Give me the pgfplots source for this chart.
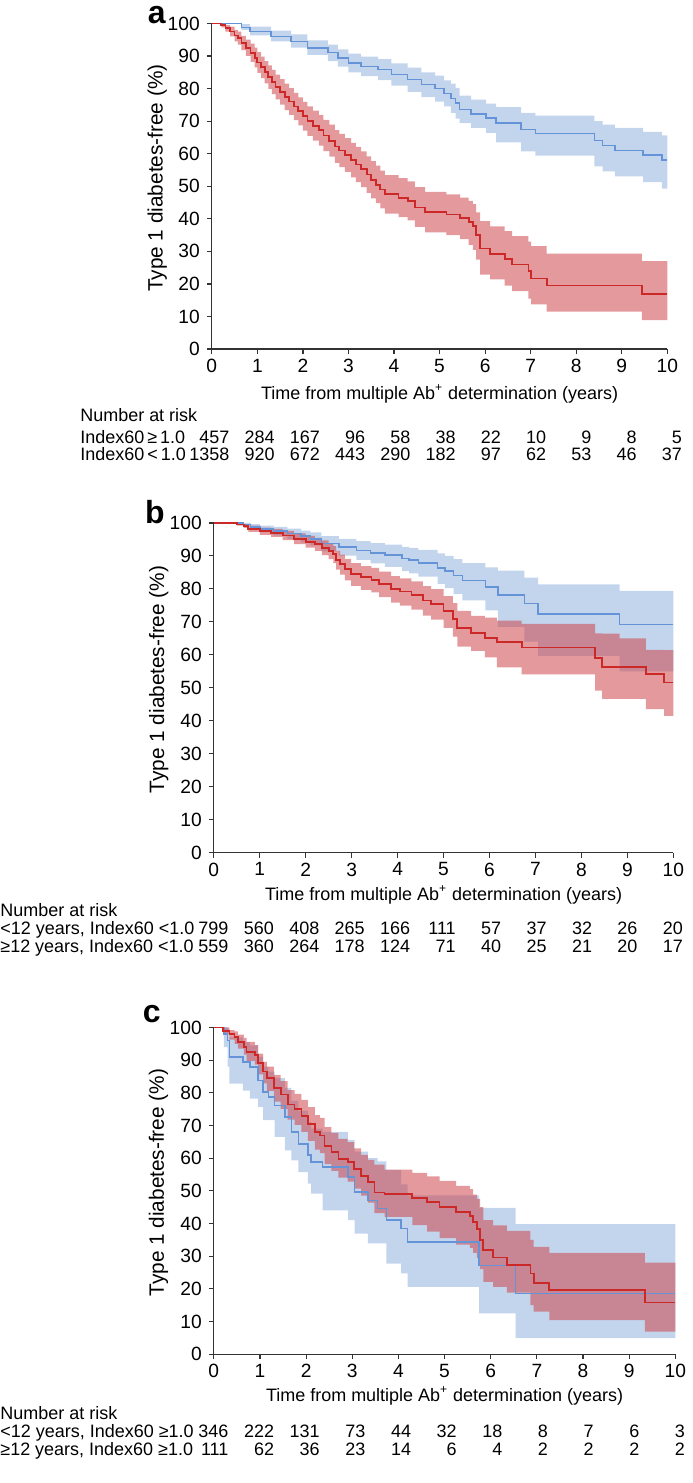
\documentclass[border=0pt]{standalone}
\usepackage{fontspec}
\setmainfont{Liberation Sans}
\usepackage{pgfplots}
\usepackage{pgfplotstable}
\pgfplotsset{compat=1.18}
\usepgfplotslibrary{fillbetween}

\definecolor{kmblue}{RGB}{100,148,215}
\definecolor{kmbluefill}{RGB}{155,185,225}
\definecolor{kmred}{RGB}{205,40,40}
\definecolor{kmredfill}{RGB}{205,70,75}

\newcommand{\lab}{\fontsize{9}{10.5}\selectfont}
\newcommand{\ticks}{\fontsize{9.6}{11}\selectfont}
\newcommand{\ylab}{\fontsize{10.4}{12}\selectfont}
\newcommand{\panel}{\fontsize{16}{16}\selectfont\bfseries}

% t = time (years), s = survival (%), lo/hi = 95% CI
\pgfplotstableread{
t s lo hi
0.00 100.0 100.0 100.0
0.65 98.8 98.0 99.8
0.84 97.5 96.3 99.0
1.30 96.0 94.5 97.8
1.74 94.5 92.6 96.6
2.10 92.4 90.3 94.8
2.55 91.0 88.4 93.5
2.77 89.4 86.7 92.0
3.00 87.8 85.0 90.7
3.28 86.8 83.8 89.8
3.65 85.8 82.6 89.0
3.94 84.3 80.9 87.7
4.30 82.7 79.0 86.4
4.60 81.2 77.4 85.0
4.90 80.0 76.0 84.0
5.10 78.5 74.5 82.5
5.25 77.0 72.5 81.5
5.35 75.5 70.8 80.2
5.44 73.6 69.4 77.8
5.69 72.2 67.9 76.6
6.02 71.0 66.4 75.4
6.24 69.4 63.5 74.3
6.79 67.4 60.7 72.5
7.10 66.2 59.4 71.7
8.40 64.0 56.1 70.0
8.58 62.5 54.6 68.9
8.85 61.0 53.0 67.9
9.47 59.6 51.3 66.7
9.88 58.0 49.3 65.6
10.00 58.0 49.3 65.6
}\aBlue

\pgfplotstableread{
t s lo hi
0.00 100.0 100.0 100.0
0.21 99.5 98.8 100.0
0.30 98.5 97.5 99.5
0.40 97.5 96.0 99.0
0.50 96.3 94.5 98.0
0.57 95.5 93.5 97.5
0.65 94.0 91.8 96.2
0.75 92.5 90.0 95.0
0.85 91.0 88.2 93.8
0.94 89.5 86.5 92.6
1.00 88.0 84.8 91.2
1.08 86.5 83.2 89.8
1.16 85.0 81.6 88.4
1.24 83.5 79.9 87.1
1.32 82.0 78.3 85.7
1.40 80.5 76.7 84.3
1.50 79.0 75.1 82.9
1.60 77.5 73.4 81.5
1.70 76.0 71.9 80.1
1.80 74.5 70.3 78.7
1.90 73.0 68.7 77.3
2.00 71.5 67.1 75.9
2.10 70.0 65.5 74.5
2.22 68.6 64.0 73.2
2.35 67.2 62.5 71.9
2.45 65.6 60.8 70.4
2.58 64.0 59.1 68.9
2.70 62.2 57.2 67.2
2.80 61.0 55.9 66.1
2.92 59.6 54.4 64.8
3.06 58.0 52.7 63.3
3.16 56.7 51.3 62.1
3.28 55.2 49.7 60.7
3.40 53.6 48.0 59.2
3.50 52.0 46.3 57.7
3.60 50.5 44.8 56.3
3.70 49.0 43.2 54.8
3.80 47.5 41.6 53.4
4.10 46.5 40.5 52.5
4.30 45.5 39.5 51.5
4.46 43.5 37.5 49.7
4.68 42.0 35.8 48.3
5.15 41.3 35.0 47.5
5.45 40.3 33.8 46.5
5.64 39.0 32.0 45.5
5.73 37.8 30.5 44.5
5.80 35.0 27.5 42.0
5.89 30.9 22.9 39.3
6.11 29.3 21.4 37.7
6.43 27.7 19.5 36.2
6.59 26.0 17.8 34.7
6.95 23.9 15.5 33.0
7.01 21.7 13.7 31.6
7.35 19.5 11.5 29.3
9.44 16.8 8.9 27.0
10.00 16.8 8.9 27.0
}\aRed

\pgfplotstableread{
t s lo hi
0.00 100.0 100.0 100.0
0.65 99.5 99.0 100.0
0.80 98.8 98.0 99.6
1.00 98.2 97.2 99.2
1.30 97.5 96.2 98.8
1.60 96.8 95.2 98.3
1.90 96.0 94.2 97.7
2.10 95.2 93.2 97.1
2.34 93.7 91.4 96.0
2.72 92.7 90.1 95.2
3.10 91.7 88.8 94.5
3.41 90.9 87.7 93.9
3.72 90.2 86.7 93.4
4.10 89.2 85.4 92.7
4.25 88.7 84.7 92.4
4.45 87.9 83.7 91.8
4.87 86.4 81.5 90.8
5.03 85.4 80.2 90.0
5.22 84.1 78.5 89.0
5.41 82.6 76.5 87.8
5.91 80.5 73.5 86.5
6.18 78.2 68.5 85.5
6.76 75.5 64.0 83.4
7.06 72.4 59.7 81.4
8.83 69.2 55.0 79.4
10.00 69.2 55.0 79.4
}\bBlue

\pgfplotstableread{
t s lo hi
0.00 100.0 100.0 100.0
0.50 99.5 99.2 100.0
0.65 99.0 98.5 99.6
0.75 98.2 97.3 99.2
1.00 97.5 96.4 98.6
1.25 97.0 95.8 98.2
1.50 96.2 94.8 97.6
1.75 95.2 93.6 96.8
2.00 94.3 92.5 96.1
2.20 93.5 91.5 95.5
2.35 92.5 90.2 94.7
2.50 91.5 89.0 93.8
2.60 90.5 87.8 93.0
2.66 88.8 85.8 91.5
2.75 87.5 84.3 90.4
2.85 86.0 82.6 89.1
2.99 84.5 80.9 87.8
3.20 83.5 79.7 86.9
3.43 82.8 78.9 86.4
3.60 81.5 77.5 85.2
3.86 80.0 75.8 83.9
4.05 79.2 74.9 83.2
4.30 78.2 73.7 82.3
4.55 76.5 71.9 80.8
4.73 75.5 70.7 79.9
5.00 73.2 68.2 77.8
5.20 70.8 65.5 75.7
5.30 68.1 62.5 73.3
5.60 66.6 61.2 71.8
5.90 65.2 59.2 71.3
6.16 63.9 56.2 70.4
6.70 62.2 54.1 69.4
8.30 59.0 49.1 66.5
8.45 56.2 46.6 66.4
8.83 56.2 46.6 65.0
9.40 54.1 43.5 61.5
9.80 51.6 41.5 61.4
10.00 51.6 41.5 61.4
}\bRed

\pgfplotstableread{
t s lo hi
0.00 100.0 100.0 100.0
0.22 98.0 94.0 100.0
0.30 96.0 88.0 99.5
0.34 90.9 82.8 97.0
0.63 89.4 80.7 95.5
0.78 87.9 78.2 94.5
0.96 83.8 75.6 91.0
1.07 80.2 71.6 88.0
1.18 78.7 71.6 86.5
1.32 76.1 66.5 84.5
1.54 72.6 62.4 81.5
1.68 68.0 59.3 77.5
1.83 64.4 55.7 74.5
2.04 60.9 52.2 71.0
2.11 58.8 49.1 69.0
2.36 57.3 44.0 68.0
2.91 54.2 41.0 65.5
3.05 49.6 36.9 62.0
3.34 47.1 33.9 60.0
3.55 44.6 33.9 59.0
3.74 41.0 27.7 56.4
4.06 38.4 24.7 52.0
4.20 34.3 20.6 48.6
5.75 27.2 12.5 44.8
6.54 18.5 4.9 39.8
10.00 18.5 4.9 39.8
}\cBlue

\pgfplotstableread{
t s lo hi
0.00 100.0 100.0 100.0
0.20 99.0 98.0 100.0
0.34 98.0 96.3 99.2
0.45 97.1 95.0 98.8
0.52 95.6 93.5 97.8
0.65 94.0 91.7 96.8
0.71 92.5 89.8 95.6
0.89 91.5 88.6 94.6
0.96 89.0 85.6 92.0
1.07 86.5 82.9 89.5
1.15 84.5 80.6 88.0
1.30 81.5 77.3 85.5
1.45 79.5 75.1 83.6
1.60 76.4 71.8 80.8
1.75 75.0 70.2 79.7
1.90 72.9 68.0 77.8
2.04 70.4 65.3 75.6
2.19 67.9 62.6 73.2
2.30 66.9 61.5 72.3
2.40 63.8 58.2 69.5
2.55 61.8 56.1 67.7
2.70 59.8 54.0 65.9
2.90 58.7 52.8 64.9
3.04 56.7 50.7 63.0
3.19 54.6 48.5 61.0
3.34 52.6 46.4 59.5
3.48 49.5 43.2 58.0
3.70 49.0 42.0 56.5
4.30 47.8 39.5 55.5
4.62 46.6 37.5 54.4
4.89 45.0 35.5 53.0
5.25 43.5 33.5 51.5
5.55 42.3 32.5 50.5
5.62 40.5 31.0 48.8
5.70 38.4 29.5 47.5
5.77 35.0 26.0 45.0
5.84 31.8 22.1 41.0
6.05 29.6 20.6 39.4
6.35 27.4 18.8 37.7
6.86 24.7 15.0 35.0
6.93 21.8 13.0 32.8
7.27 19.6 10.4 31.0
9.34 15.8 6.9 28.0
10.00 15.8 6.9 28.0
}\cRed

\pgfplotsset{
  km/.style={
    scale only axis,
    xmin=0, xmax=10, ymin=0, ymax=100,
    axis lines=left,
    axis line style={-, black!80, line width=0.6pt},
    xtick={0,1,...,10},
    ytick={0,10,...,100},
    tick align=outside,
    major tick length=2.5pt,
    tick style={black!80, line width=0.6pt},
    tick label style={font=\ticks},
    xticklabel style={yshift=1pt},
    /pgf/number format/assume math mode=true,
    xlabel={Time from multiple Ab\textsuperscript{+} determination (years)},
    ylabel={Type 1 diabetes-free (\%)},
    xlabel style={font=\lab, anchor=center},
    ylabel style={font=\ylab, at={(axis description cs:-0.12,0.525)}, anchor=center},
    clip=false,
  },
}

% row of numbers at risk, right aligned a little right of the ticks
% #1 x of tick 0 (px), #2 baseline (px), #3 px per year, #4 offset, #5 drift, #6 values
\newcommand{\riskrow}[6]{%
  \foreach \n [count=\k from 0] in {#6} {
    \node[anchor=base east, inner sep=0pt, font=\lab]
      at ({(#1+#3*\k+#4-#5*\k)*0.5pt}, {-#2*0.5pt}) {\n};
  }}

\begin{document}
\begin{tikzpicture}

% ---------------- a ----------------
\begin{axis}[km, at={(106pt,-174pt)}, anchor=south west,
  width=228pt, height=163pt,
  xlabel style={at={(axis description cs:0.5,-0.138)}}]
\addplot[name path=aBu, draw=none, const plot, forget plot] table[x=t,y=hi] {\aBlue};
\addplot[name path=aBl, draw=none, const plot, forget plot] table[x=t,y=lo] {\aBlue};
\addplot[kmbluefill, fill opacity=0.6, draw=none] fill between[of=aBu and aBl];
\addplot[kmblue, line width=0.75pt, const plot] table[x=t,y=s] {\aBlue};
\addplot[name path=aRu, draw=none, const plot, forget plot] table[x=t,y=hi] {\aRed};
\addplot[name path=aRl, draw=none, const plot, forget plot] table[x=t,y=lo] {\aRed};
\addplot[kmredfill, fill opacity=0.55, draw=none] fill between[of=aRu and aRl];
\addplot[kmred, line width=0.9pt, const plot] table[x=t,y=s] {\aRed};
\end{axis}
\node[font=\panel] at (78.5pt,-7pt) {a};
\node[anchor=base west, inner sep=0pt, font=\lab] at (40pt,-210pt) {Number at risk};
\node[anchor=base west, inner sep=0pt, font=\lab] at (40pt,-221pt) {Index60\,≥\,1.0};
\node[anchor=base west, inner sep=0pt, font=\lab] at (40pt,-230pt) {Index60\,<\,1.0};
\riskrow{212}{442}{45.6}{18}{0.3}{457,284,167,96,58,38,22,10,9,8,5}
\riskrow{212}{460}{45.6}{18}{0.3}{1358,920,672,443,290,182,97,62,53,46,37}

% ---------------- b ----------------
\begin{axis}[km, at={(107pt,-426pt)}, anchor=south west,
  width=230pt, height=165pt,
  xlabel style={at={(axis description cs:0.5,-0.128)}}]
\addplot[name path=bBu, draw=none, const plot, forget plot] table[x=t,y=hi] {\bBlue};
\addplot[name path=bBl, draw=none, const plot, forget plot] table[x=t,y=lo] {\bBlue};
\addplot[kmbluefill, fill opacity=0.6, draw=none] fill between[of=bBu and bBl];
\addplot[kmblue, line width=0.75pt, const plot] table[x=t,y=s] {\bBlue};
\addplot[name path=bRu, draw=none, const plot, forget plot] table[x=t,y=hi] {\bRed};
\addplot[name path=bRl, draw=none, const plot, forget plot] table[x=t,y=lo] {\bRed};
\addplot[kmredfill, fill opacity=0.55, draw=none] fill between[of=bRu and bRl];
\addplot[kmred, line width=0.9pt, const plot] table[x=t,y=s] {\bRed};
\end{axis}
\node[font=\panel] at (77.5pt,-255.5pt) {b};
\node[anchor=base west, inner sep=0pt, font=\lab] at (0pt,-458pt) {Number at risk};
\node[anchor=base west, inner sep=0pt, font=\lab] at (0pt,-467pt) {<12 years, Index60 <1.0};
\node[anchor=base west, inner sep=0pt, font=\lab] at (0pt,-476pt) {≥12 years, Index60 <1.0};
\riskrow{214}{934}{46}{15}{0.5}{799,560,408,265,166,111,57,37,32,26,20}
\riskrow{214}{952}{46}{15}{0.5}{559,360,264,178,124,71,40,25,21,20,17}

% ---------------- c ----------------
\begin{axis}[km, at={(107pt,-677pt)}, anchor=south west,
  width=231pt, height=163.5pt,
  xlabel style={at={(axis description cs:0.5,-0.128)}}]
\addplot[name path=cBu, draw=none, const plot, forget plot] table[x=t,y=hi] {\cBlue};
\addplot[name path=cBl, draw=none, const plot, forget plot] table[x=t,y=lo] {\cBlue};
\addplot[kmbluefill, fill opacity=0.6, draw=none] fill between[of=cBu and cBl];
\addplot[kmblue, line width=0.75pt, const plot] table[x=t,y=s] {\cBlue};
\addplot[name path=cRu, draw=none, const plot, forget plot] table[x=t,y=hi] {\cRed};
\addplot[name path=cRl, draw=none, const plot, forget plot] table[x=t,y=lo] {\cRed};
\addplot[kmredfill, fill opacity=0.55, draw=none] fill between[of=cRu and cRl];
\addplot[kmred, line width=0.9pt, const plot] table[x=t,y=s] {\cRed};
\end{axis}
\node[font=\panel] at (76pt,-507pt) {c};
\node[anchor=base west, inner sep=0pt, font=\lab] at (0pt,-709.5pt) {Number at risk};
\node[anchor=base west, inner sep=0pt, font=\lab] at (0pt,-718.5pt) {<12 years, Index60 ≥1.0};
\node[anchor=base west, inner sep=0pt, font=\lab] at (0pt,-727.5pt) {≥12 years, Index60 ≥1.0};
\riskrow{214}{1437}{46.2}{15}{0.5}{346,222,131,73,44,32,18,8,7,6,3}
\riskrow{214}{1455}{46.2}{15}{0.5}{111,62,36,23,14,6,4,2,2,2,2}

% page frame
\path (0,0) rectangle (342.5pt,-741.5pt);
\end{tikzpicture}
\end{document}
